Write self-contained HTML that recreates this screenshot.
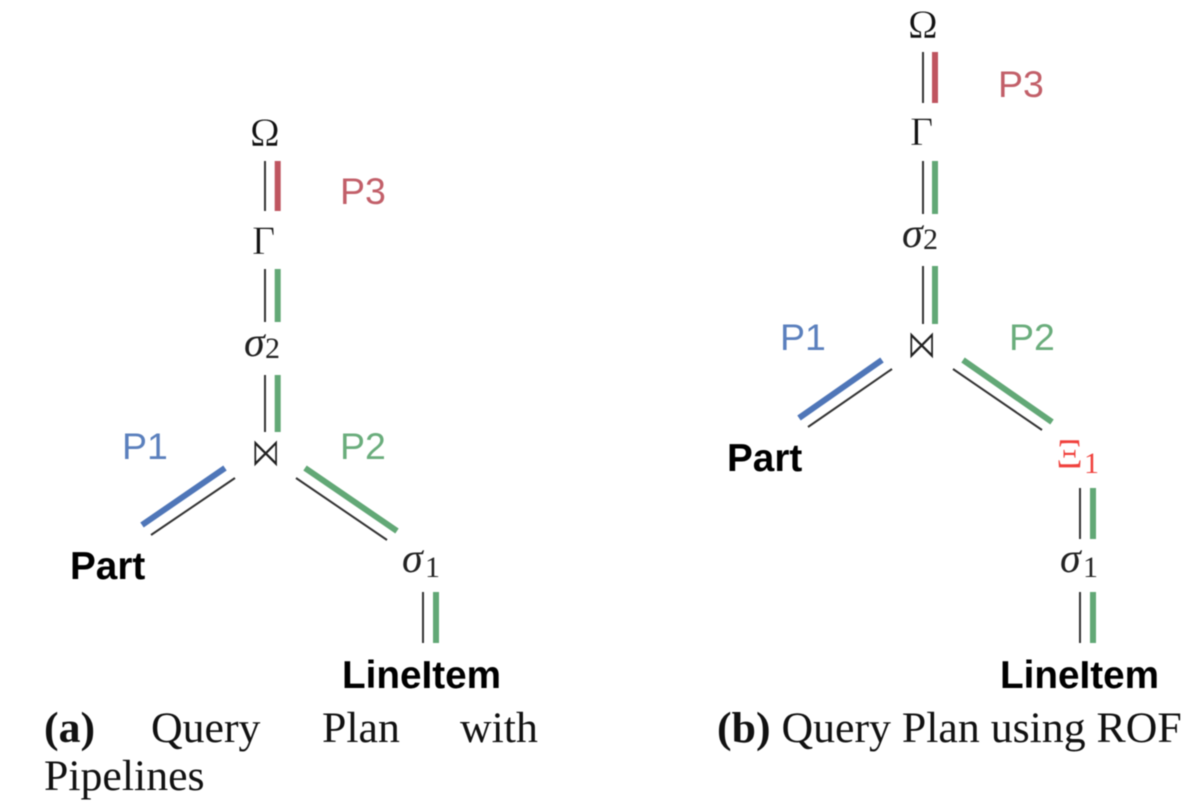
<!DOCTYPE html>
<html>
<head>
<meta charset="utf-8">
<style>
html,body{margin:0;padding:0;background:#fff;width:1200px;height:803px;overflow:hidden}
svg{display:block;filter:blur(0.5px)}
.m{font-family:"Liberation Serif",serif;font-size:40px;fill:#111;stroke:#fff;stroke-width:.5px}
.i{font-family:"Liberation Serif",serif;font-style:italic;font-size:42px;fill:#222}
.s{font-family:"Liberation Serif",serif;font-size:30px;fill:#222}
.j{font-family:"DejaVu Sans",sans-serif;font-size:31px;fill:#222;stroke:#fff;stroke-width:.7px}
.p{font-family:"Liberation Sans",sans-serif;font-size:37.5px}
.b{font-family:"Liberation Sans",sans-serif;font-size:38.7px;font-weight:bold;fill:#000}
.c{font-family:"Liberation Serif",serif;font-size:43.8px;fill:#111}
.k{stroke:#333;stroke-width:2;fill:none}
.r{stroke:#bf5560;stroke-width:6;fill:none}
.g{stroke:#62a876;stroke-width:6;fill:none}
.u{stroke:#4f76b8;stroke-width:6;fill:none}
</style>
</head>
<body>
<svg width="1200" height="803" viewBox="0 0 1200 803" xmlns="http://www.w3.org/2000/svg">
<!-- Left plan -->
<path class="k" d="M265 161V211M265 269V322M265 375V432M235 478L151 535M296 478L387 540M423 592V643"/>
<path class="r" d="M277.7 161V211"/>
<path class="g" d="M277.7 269V322M277.7 375V432M305 468L397 531M436 592V643"/>
<path class="u" d="M225 468L142 525"/>
<text class="m" x="250" y="146">Ω</text>
<text class="m" x="252" y="254">Γ</text>
<text class="i" x="244" y="356">σ</text><text class="s" x="265" y="358">2</text>
<text class="j" transform="translate(251 466) scale(.95 1.3)" x="0" y="0">⋈</text>
<text class="i" x="402" y="572">σ</text><text class="s" x="425" y="577">1</text>
<text class="p" x="340" y="204" fill="#c25f69">P3</text>
<text class="p" x="122" y="459" fill="#5b80bd">P1</text>
<text class="p" x="340" y="459" fill="#6aad7c">P2</text>
<text class="b" x="70" y="579">Part</text>
<text class="b" x="342" y="688">LineItem</text>
<text class="c" x="44" y="742"><tspan font-weight="bold">(a)</tspan></text>
<text class="c" x="151" y="742">Query</text>
<text class="c" x="322" y="742">Plan</text>
<text class="c" x="460" y="742">with</text>
<text class="c" x="44" y="790">Pipelines</text>
<!-- Right plan -->
<path class="k" d="M923 52V103M923 161V214M923 266V324M892 369L808 427M953 369L1042 430M1080 488V539M1080 592V643"/>
<path class="r" d="M935 52V103"/>
<path class="g" d="M935 161V214M935 266V324M963 360L1052 422M1093 488V539M1093 592V643"/>
<path class="u" d="M882 360L799 418"/>
<text class="m" x="908" y="38">Ω</text>
<text class="m" x="910" y="145">Γ</text>
<text class="i" x="902" y="247">σ</text><text class="s" x="923" y="249">2</text>
<text class="j" transform="translate(907 358) scale(.95 1.3)" x="0" y="0">⋈</text>
<text class="m" x="1056" y="468" style="fill:#f0403c;font-size:42px">Ξ</text><text class="s" x="1084" y="473" style="fill:#f0403c">1</text>
<text class="i" x="1060" y="572">σ</text><text class="s" x="1083" y="577">1</text>
<text class="p" x="998" y="97" fill="#c25f69">P3</text>
<text class="p" x="780" y="350" fill="#5b80bd">P1</text>
<text class="p" x="1009" y="350" fill="#6aad7c">P2</text>
<text class="b" x="727" y="471">Part</text>
<text class="b" x="1000" y="688">LineItem</text>
<text class="c" x="717" y="742"><tspan font-weight="bold">(b)</tspan> Query Plan using ROF</text>
</svg>
</body>
</html>
